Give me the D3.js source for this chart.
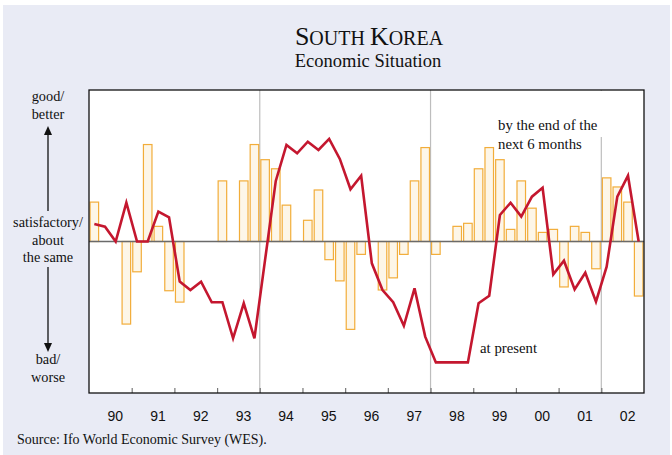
<!DOCTYPE html>
<html>
<head>
<meta charset="utf-8">
<script src="https://cdn.jsdelivr.net/npm/d3@7"></script>
<style>
  html, body { margin: 0; padding: 0; background: #ffffff; }
  svg { display: block; }
</style>
</head>
<body>
<svg id="chart" width="672" height="455"></svg>
<script>
// ---- data ----
const years = ["90","91","92","93","94","95","96","97","98","99","00","01","02"];
const quarters = ["Q1","Q2","Q3","Q4"];
// Economic situation at present (line), quarterly 1990Q1 - 2002Q4
const present = [
  11.6, 9.8, 0, 25.6,
  0, 0, 19.7, 16,
  -26.5, -32, -26.5, -40.1,
  -40.1, -63.9, -40.8, -63.9,
  -12, 40, 63.7, 58.2,
  65.9, 60.4, 67.7, 54.5,
  34.5, 43.4, -14.4, -32,
  -40.1, -55.6, -30.9, -62.8,
  -79.8, -79.8, -79.8, -79.8,
  -40.8, -35.8, 17.5, 25.6,
  16.4, 29.6, 35.5, -21.7,
  -12.7, -31.6, -20.6, -39.7,
  -16.6, 29.6, 43.4, 0
];
// Expectations by the end of the next 6 months (bars); null = no bar
const expected = [
  26, null, null, -54.5,
  -20, 64, 10, -32.5,
  -40, null, null, null,
  40, null, 40, 64,
  54, 48, 24, null,
  14, 34, -12, -26,
  -58, -8.5, null, -32,
  -24, -8.5, 40, 62,
  -8.5, null, 10, 12,
  48, 62, 54, 8,
  40, 22, 6, 8,
  -30, 10, 6, -18,
  42, 36, 26, -36
];
const sideLabels = {
  top: ["good/", "better"],
  mid: ["satisfactory/", "about", "the same"],
  bottom: ["bad/", "worse"]
};

// ---- layout ----
const svg = d3.select("#chart");
const W = 672, H = 455;
const plot = { left: 89, right: 644, top: 90, bottom: 393 };

svg.append("rect").attr("x", 3).attr("y", 5).attr("width", W - 5).attr("height", H - 5)
  .attr("fill", "#e9ebf5");

const nQ = years.length * quarters.length;
const x = d3.scaleLinear().domain([0, nQ]).range([plot.left, plot.right]);
const y = d3.scaleLinear().domain([-100, 100]).range([plot.bottom, plot.top]);
const xc = i => x(i + 0.5);

// plot background
svg.append("rect").attr("x", plot.left).attr("y", plot.top)
  .attr("width", plot.right - plot.left).attr("height", plot.bottom - plot.top)
  .attr("fill", "#ffffff");

// vertical separators (end of 93, 97, 01)
[4, 8, 12].forEach(k => {
  svg.append("line")
    .attr("x1", x(k * 4)).attr("x2", x(k * 4))
    .attr("y1", plot.top).attr("y2", plot.bottom)
    .attr("stroke", "#bdbdbd").attr("stroke-width", 1.2);
});

// bars
const bw = (x(1) - x(0)) * 0.8;
svg.append("g").selectAll("rect")
  .data(expected.map((v, i) => ({ v, i })).filter(d => d.v !== null))
  .join("rect")
  .attr("x", d => xc(d.i) - bw / 2)
  .attr("width", bw)
  .attr("y", d => Math.min(y(d.v), y(0)))
  .attr("height", d => Math.abs(y(d.v) - y(0)))
  .attr("fill", "#fdf6e8")
  .attr("stroke", "#f2ad3a")
  .attr("stroke-width", 1.2);

// zero line
svg.append("line").attr("x1", plot.left).attr("x2", plot.right)
  .attr("y1", y(0)).attr("y2", y(0))
  .attr("stroke", "#6a6a6a").attr("stroke-width", 1.6);

// text box for expectation label
svg.append("rect").attr("x", 495).attr("y", plot.top + 1).attr("width", 109).attr("height", 46)
  .attr("fill", "#ffffff");

// line
const line = d3.line().x((d, i) => xc(i)).y(d => y(d));
svg.append("path").datum(present)
  .attr("d", line)
  .attr("fill", "none")
  .attr("stroke", "#c4172f")
  .attr("stroke-width", 2.6)
  .attr("stroke-linejoin", "miter");

// x axis (ticks inside at year boundaries)
const xAxis = d3.axisBottom(x)
  .tickValues(d3.range(1, years.length).map(k => k * 4))
  .tickSize(-5)
  .tickFormat("");
const gx = svg.append("g").attr("transform", `translate(0,${plot.bottom})`).call(xAxis);
gx.select(".domain").remove();
gx.selectAll(".tick line").attr("stroke", "#777").attr("stroke-width", 1.2);

svg.append("g").selectAll("text").data(years).join("text")
  .attr("x", (d, k) => x(k * 4 + 2) + 5)
  .attr("y", 421)
  .attr("text-anchor", "middle")
  .attr("font-family", "'Liberation Sans', Arial, sans-serif")
  .attr("font-size", 14)
  .attr("fill", "#111")
  .text(d => d);

// plot border
svg.append("rect").attr("x", plot.left).attr("y", plot.top)
  .attr("width", plot.right - plot.left).attr("height", plot.bottom - plot.top)
  .attr("fill", "none").attr("stroke", "#111").attr("stroke-width", 1.3);

// title
const serif = "'Liberation Serif', 'Times New Roman', serif";
const t = svg.append("text").attr("x", 369).attr("y", 45).attr("text-anchor", "middle")
  .attr("font-family", serif).attr("fill", "#111");
t.append("tspan").attr("font-size", 26).text("S");
t.append("tspan").attr("font-size", 20).text("OUTH ");
t.append("tspan").attr("font-size", 26).text("K");
t.append("tspan").attr("font-size", 20).text("OREA");
svg.append("text").attr("x", 368).attr("y", 67).attr("text-anchor", "middle")
  .attr("font-family", serif).attr("font-size", 18.5).attr("fill", "#111")
  .text("Economic Situation");

// side labels
function sideBlock(lines, y0) {
  svg.append("g").selectAll("text").data(lines).join("text")
    .attr("x", 48).attr("y", (d, i) => y0 + i * 17.5)
    .attr("text-anchor", "middle")
    .attr("font-family", serif).attr("font-size", 14.3).attr("fill", "#111")
    .text(d => d);
}
sideBlock(sideLabels.top, 101);
sideBlock(sideLabels.mid, 227);
sideBlock(sideLabels.bottom, 364);

// arrows
svg.append("line").attr("x1", 48).attr("x2", 48).attr("y1", 211).attr("y2", 131)
  .attr("stroke", "#111").attr("stroke-width", 1.3);
svg.append("path").attr("d", "M44,135 L48,126 L52,135 Z").attr("fill", "#111");
svg.append("line").attr("x1", 48).attr("x2", 48).attr("y1", 267).attr("y2", 347)
  .attr("stroke", "#111").attr("stroke-width", 1.3);
svg.append("path").attr("d", "M44,343 L48,352 L52,343 Z").attr("fill", "#111");

// annotations
svg.append("text").attr("x", 498).attr("y", 130)
  .attr("font-family", serif).attr("font-size", 14.8).attr("fill", "#111")
  .text("by the end of the");
svg.append("text").attr("x", 498).attr("y", 148.5)
  .attr("font-family", serif).attr("font-size", 14.8).attr("fill", "#111")
  .text("next 6 months");
svg.append("text").attr("x", 480).attr("y", 353)
  .attr("font-family", serif).attr("font-size", 14.8).attr("fill", "#111")
  .text("at present");

// source
svg.append("text").attr("x", 17).attr("y", 444)
  .attr("font-family", serif).attr("font-size", 14).attr("fill", "#111")
  .text("Source: Ifo World Economic Survey (WES).");
</script>
</body>
</html>
